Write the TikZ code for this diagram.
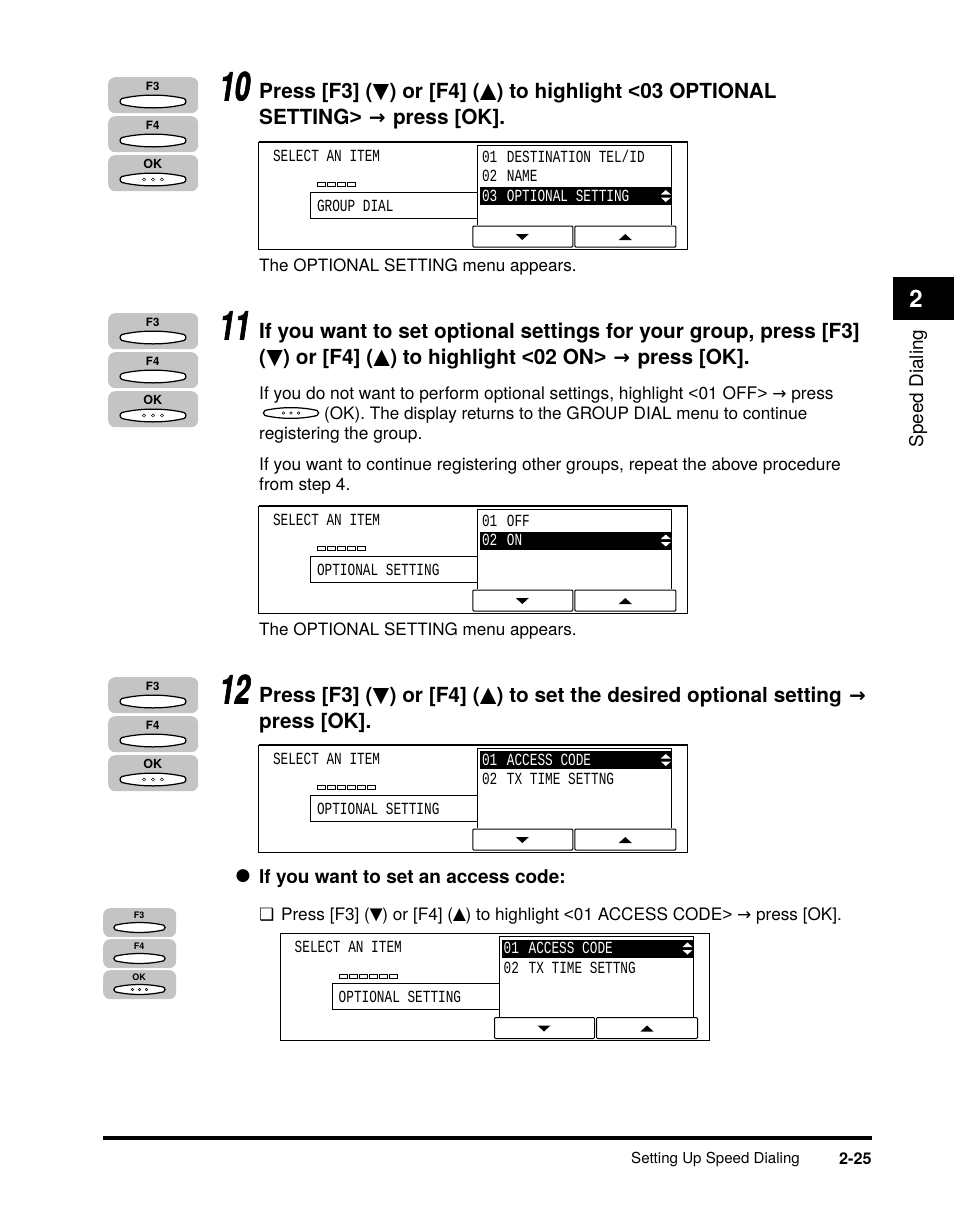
\documentclass[tikz,border=0pt]{standalone}
\usepackage{fontspec}
\setmainfont{TeX Gyre Heros}
\newfontfamily\symf{DejaVu Sans}
\newfontfamily\ltf{Liberation Sans}
\newfontfamily\lcdf[FakeStretch=0.75]{Liberation Mono}
\newfontfamily\stepf[FakeStretch=0.69]{TeX Gyre Heros}
\newcommand{\fs}[1]{\fontsize{#1}{#1}\selectfont}
\newcommand{\dn}{\makebox[17pt]{\raisebox{-1.5pt}[0pt][0pt]{\ltf\fontsize{28}{28}\selectfont ▼}}}
\newcommand{\up}{\makebox[17pt]{\raisebox{-1.5pt}[0pt][0pt]{\ltf\fontsize{28}{28}\selectfont ▲}}}
\newcommand{\dnb}{\makebox[12.5pt]{\raisebox{-1pt}[0pt][0pt]{\ltf\fontsize{22}{22}\selectfont ▼}}}
\newcommand{\upb}{\makebox[12.5pt]{\raisebox{-1pt}[0pt][0pt]{\ltf\fontsize{22}{22}\selectfont ▲}}}
\newcommand{\arr}{\kern1.5pt{\symf\bfseries\fontsize{20}{20}\selectfont →}\kern1.5pt}
\newcommand{\arrb}{{\symf\fontsize{17}{17}\selectfont →}}
\newcommand{\lts}{{\ltf <}}
\newcommand{\gts}{{\ltf >}}
\tikzset{
  head/.style={anchor=base west,inner sep=0,font=\bfseries\fs{20.8}},
  body/.style={anchor=base west,inner sep=0,font=\fs{17.35}},
  bodyb/.style={anchor=base west,inner sep=0,font=\fs{17.1}},
  bodyc/.style={anchor=base west,inner sep=0,font=\fs{17.2}},
  capt/.style={anchor=base west,inner sep=0,font=\fs{17.05}},
  stepnum/.style={anchor=base west,inner sep=0,font=\stepf\bfseries\itshape\addfontfeatures{FakeBold=1.5}\fs{40}},
  lcd/.style={anchor=base west,inner sep=0,font=\lcdf\fs{17},text=black},
  pad/.style={fill=black!23,draw=none,rounded corners=7},
  lens/.style={fill=white,draw=black,line width=1.25},
  frameb/.style={draw=black,line width=1,fill=white},
}
% lens-shaped key: centre x, centre y, scale
\newcommand{\lensbtn}[4][]{%
  \begin{scope}[shift={(#2,#3)},scale=#4]
    \draw[lens] (-31,-3) .. controls (-12,-7.5) and (12,-7.5) .. (31,-3)
      .. controls (33.5,-2) and (33.5,2) .. (31,3)
      .. controls (12,7.5) and (-12,7.5) .. (-31,3)
      .. controls (-33.5,2) and (-33.5,-2) .. (-31,-3) -- cycle;
    #1
  \end{scope}}
\newcommand{\okdots}{\foreach \dx in {-9,0,9}{\draw[black,line width=.5] (\dx-1.6,0)--(\dx,-1.6)--(\dx+1.6,0)--(\dx,1.6)--cycle;}}
\newcommand{\graykey}[8]{%
  \node[pad,minimum width=#4,minimum height=#5,anchor=north west,inner sep=0] (#1) at (#2,#3) {};
  \node[inner sep=0,font=\bfseries\fs{#8}] (#1l) at ([xshift=-0.5pt,yshift=0.25*#5]#1.center) {#6};
}
\newcommand{\keyset}[3]{% tag, left, top (large)
  \graykey{#1a}{#2}{#3}{90}{36}{F3}{1}{11.5}
  \lensbtn{#2+45}{#3+24.5}{1}
  \graykey{#1b}{#2}{#3+39}{90}{36}{F4}{1}{11.5}
  \lensbtn{#2+45}{#3+63.5}{1}
  \graykey{#1c}{#2}{#3+78}{90}{36}{OK}{1}{12.5}
  \lensbtn[\okdots]{#2+45}{#3+102.5}{1}
}
\newcommand{\keysetsmall}[3]{%
  \graykey{#1a}{#2}{#3}{73}{29}{F3}{.8}{9}
  \lensbtn{#2+36.5}{#3+19.5}{.78}
  \graykey{#1b}{#2}{#3+31}{73}{29}{F4}{.8}{9}
  \lensbtn{#2+36.5}{#3+50.5}{.78}
  \graykey{#1c}{#2}{#3+62}{73}{29}{OK}{.8}{9}
  \lensbtn[\okdots]{#2+36.5}{#3+81.5}{.78}
}
% LCD panel: tag,x,y,boxlabel,nsquares,row1,row2,row3,selected row (1..3)
\newcommand{\nk}{\kern2pt{} }
\newcommand{\lcdpanel}[9]{%
  \begin{scope}[shift={(#2,#3)}]
    \draw[line width=1] (0,107) rectangle (429,0);
    \draw[line width=1.6] (0,0) -- (429,0);
    \node[lcd] (#1t) at (14,19) {SELECT AN ITEM};
    \foreach \k in {1,...,#5}{\draw[line width=.9] ({59+(\k-1)*10},40.5) rectangle ++(8,4);}
    \draw[frameb] (52,50) rectangle (219,76);
    \node[lcd] (#1g) at (58,69) {#4};
    \draw[frameb] (219,83) -- (219,3) -- (413,3) -- (413,83);
    \fill[black] (221,{6+(#9-1)*19.5}) rectangle (412,{24+(#9-1)*19.5});
    \ifnum#9=1\def\ca{white}\else\def\ca{black}\fi
    \node[lcd,text=\ca] (#1r1) at (223,20) {#6};
    \ifnum#9=2\def\ca{white}\else\def\ca{black}\fi
    \node[lcd,text=\ca] (#1r2) at (223,39.5) {#7};
    \ifnum#9=3\def\ca{white}\else\def\ca{black}\fi
    \node[lcd,text=\ca] (#1r3) at (223,59) {#8};
    \begin{scope}[shift={(407,{15+(#9-1)*19.5})}]
      \fill[white] (-5,-1.5)--(0,-6)--(5,-1.5)--cycle (-5,1.5)--(0,6)--(5,1.5)--cycle;
    \end{scope}
    \draw[frameb,rounded corners=1] (214,105) rectangle (314,84);
    \draw[frameb,rounded corners=1] (316,105) rectangle (417,84);
    \fill (257,92)--(270,92)--(263.5,98)--cycle;
    \fill (360,98)--(373,98)--(366.5,92)--cycle;
  \end{scope}}
\begin{document}
\begin{tikzpicture}[x=1pt,y=-1pt]
\useasboundingbox[fill=white] (0,0) rectangle (954,1227);

\keyset{ka}{108}{77}
\node[stepnum] (s10) at (219,100.5) {10};
\node[head] (h1a) at (259,98.5) {Press [F3] (\dn) or [F4] (\up) to highlight \lts03 OPTIONAL};
\node[head] (h1b) at (259,124.5) {SETTING\gts{} \arr{} press [OK].};
\lcdpanel{pa}{258.8}{142}{GROUP DIAL}{4}{01\nk DESTINATION TEL/ID}{02\nk NAME}{03\nk OPTIONAL SETTING}{3}
\node[capt] (c1) at (259,271) {The OPTIONAL SETTING menu appears.};

\keyset{kb}{108}{313}
\node[stepnum] (s11) at (219,339.5) {11};
\node[head] (h2a) at (259,338.5) {If you want to set optional settings for your group, press [F3]};
\node[head] (h2b) at (259,364.5) {(\dn) or [F4] (\up) to highlight \lts02 ON\gts{} \arr{} press [OK].};
\node[body] (b1) at (259,399) {If you do not want to perform optional settings, highlight \lts01 OFF\gts{} \arrb{} press};
\lensbtn[\okdots]{291}{413}{.84}
\node[bodyb] (b2) at (324,419) {(OK). The display returns to the GROUP DIAL menu to continue};
\node[body] (b3) at (259,439) {registering the group.};
\node[body] (b4) at (259,470) {If you want to continue registering other groups, repeat the above procedure};
\node[body] (b5) at (259,490) {from step 4.};
\lcdpanel{pb}{258.8}{506}{OPTIONAL SETTING}{5}{01\nk OFF}{02\nk ON}{}{2}
\node[capt] (c2) at (259,635) {The OPTIONAL SETTING menu appears.};

\keyset{kc}{108}{677}
\node[stepnum] (s12) at (219,703.5) {12};
\node[head] (h3a) at (259,702.5) {Press [F3] (\dn) or [F4] (\up) to set the desired optional setting \arr};
\node[head] (h3b) at (259,728.5) {press [OK].};
\lcdpanel{pc}{258.8}{745}{OPTIONAL SETTING}{6}{01\nk ACCESS CODE}{02\nk TX TIME SETTNG}{}{1}

\node[anchor=center,inner sep=0,font=\symf\fs{17}] (bul) at (243,876) {●};
\node[head,font=\bfseries\fs{19}] (h4) at (259,883) {If you want to set an access code:};
\keysetsmall{kd}{103}{908}
\node[anchor=base west,inner sep=0,font=\symf\fs{17}] (chk) at (259,920) {❑};
\node[bodyc] (b6) at (281,920) {Press [F3] (\dnb) or [F4] (\upb) to highlight \lts01 ACCESS CODE\gts{} \arrb{} press [OK].};
\lcdpanel{pd}{280.5}{933.5}{OPTIONAL SETTING}{6}{01\nk ACCESS CODE}{02\nk TX TIME SETTNG}{}{1}

\fill[black] (893,277) rectangle (954,320);
\node[inner sep=0,text=white,font=\bfseries\fs{24}] (tab) at (916,298.5) {2};
\node[rotate=90,inner sep=0,font=\fs{18.9}] (side) at (918,388.5) {Speed Dialing};

\fill[black] (103,1136) rectangle (872,1140);
\node[anchor=base west,inner sep=0,font=\fs{15.1}] (f1) at (631,1163) {Setting Up Speed Dialing};
\node[anchor=base west,inner sep=0,font=\bfseries\fs{16.2}] (f2) at (839,1164) {2-25};
\end{tikzpicture}
\end{document}
